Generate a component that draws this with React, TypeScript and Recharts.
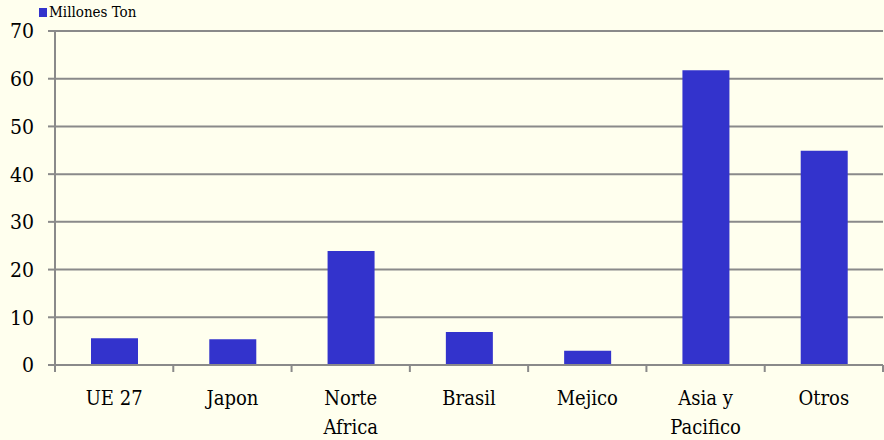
import React from 'react';
import { BarChart, Bar, XAxis, YAxis, CartesianGrid } from 'recharts';

const categories = ['UE 27', 'Japon', 'Norte Africa', 'Brasil', 'Mejico', 'Asia y Pacifico', 'Otros'];
const millonesTon = [5.6, 5.4, 23.9, 6.9, 3.0, 61.8, 44.9];
const yTicks = [0, 10, 20, 30, 40, 50, 60, 70];
const seriesName = 'Millones Ton';

const data = categories.map((c, i) => ({ name: c, value: millonesTon[i] }));

const W = 884;
const H = 440;
const M = { top: 31, right: 1, left: 0, bottom: 0 };
const Y_W = 55;
const X_H = 75;
const band = (W - M.left - M.right - Y_W) / categories.length;
const GRAY = '#8a8a8a';
const FONT = "'DejaVu Serif Condensed', 'DejaVu Serif', serif";

const splitLabel = (s: string): string[] => {
  if (s.length <= 8) return [s];
  const i = s.lastIndexOf(' ');
  return i > 0 ? [s.slice(0, i), s.slice(i + 1)] : [s];
};

const XTick = (props: any) => {
  const { x, y, payload, index } = props;
  const isLast = index === categories.length - 1;
  const lines = splitLabel(String(payload.value));
  return (
    <g>
      <line x1={x - band / 2} y1={y - 8} x2={x - band / 2} y2={y - 1} stroke={GRAY} strokeWidth={2} />
      {isLast && (
        <line x1={x + band / 2} y1={y - 8} x2={x + band / 2} y2={y - 1} stroke={GRAY} strokeWidth={2} />
      )}
      <text
        x={x}
        y={y + 32}
        textAnchor="middle"
        style={{ fontSize: 20, fontFamily: FONT, fontStretch: 'condensed', fill: '#000' }}
      >
        {lines.map((l, i) => (
          <tspan key={i} x={x} dy={i === 0 ? 0 : 29}>
            {l}
          </tspan>
        ))}
      </text>
    </g>
  );
};

export default function App() {
  return (
    <div style={{ position: 'absolute', left: 0, top: 0, width: W, height: H, background: '#FFFFEE', fontFamily: FONT }}>
      <BarChart width={W} height={H} data={data} margin={M} barCategoryGap="30%">
        <CartesianGrid vertical={false} stroke={GRAY} strokeWidth={2} />
        <XAxis
          dataKey="name"
          height={X_H}
          axisLine={{ stroke: GRAY, strokeWidth: 2 }}
          tickLine={false}
          tick={<XTick />}
          interval={0}
        />
        <YAxis
          width={Y_W}
          domain={[0, 70]}
          ticks={yTicks}
          interval={0}
          axisLine={{ stroke: GRAY, strokeWidth: 2 }}
          tickLine={{ stroke: GRAY, strokeWidth: 2 }}
          tickSize={7}
          tickMargin={14}
          tick={{ fontSize: 21, fontFamily: FONT, fill: '#000', style: { fontFamily: FONT, fontStretch: 'condensed' } }}
        />
        <Bar dataKey="value" name={seriesName} fill="#3333CC" barSize={47} isAnimationActive={false} />
      </BarChart>
      <div
        style={{
          position: 'absolute',
          left: 39,
          top: 3,
          display: 'flex',
          alignItems: 'center',
          fontFamily: FONT,
          fontStretch: 'condensed',
          fontSize: 15,
          color: '#000',
        }}
      >
        <span style={{ display: 'inline-block', width: 8, height: 9, background: '#3333CC', marginRight: 2 }} />
        <span>{seriesName}</span>
      </div>
    </div>
  );
}
